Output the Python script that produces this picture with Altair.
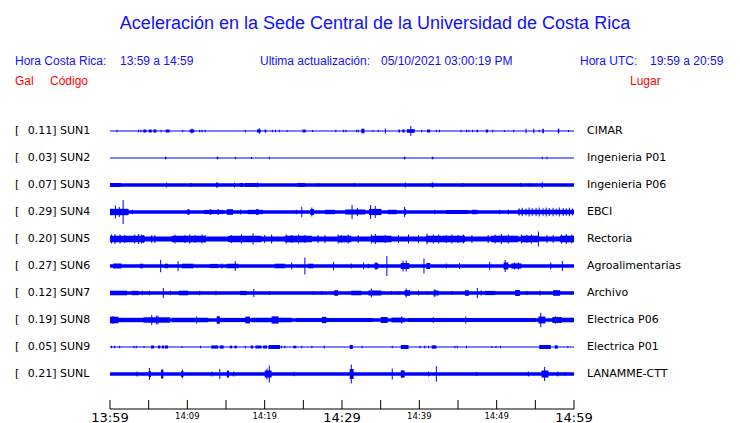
import altair as alt
import pandas as pd

# ---------------- data ----------------
codes = ["SUN1", "SUN2", "SUN3", "SUN4", "SUN5", "SUN6", "SUN7", "SUN8", "SUN9", "SUNL"]
gal = ["0.11", "0.03", "0.07", "0.29", "0.20", "0.27", "0.12", "0.19", "0.05", "0.21"]
places = ["CIMAR", "Ingenieria P01", "Ingenieria P06", "EBCI", "Rectoria",
          "Agroalimentarias", "Archivo", "Electrica P06", "Electrica P01", "LANAMME-CTT"]
# background noise half-amplitude of each trace (display units, 27 = trace spacing)
base_amp = [0.6, 0.6, 1.7, 1.7, 2.5, 1.7, 1.7, 1.7, 0.6, 1.7]

tick_minutes = [0, 5, 10, 15, 20, 25, 30, 35, 40, 45, 50, 55, 60]
label_minutes = [0, 10, 20, 30, 40, 50, 60]
label_text = ["13:59", "14:09", "14:19", "14:29", "14:39", "14:49", "14:59"]
label_major = [True, False, False, True, False, False, True]

# envelope events per trace: (minute, half-amp) spikes or (start, end, half-amp) bursts
sun1 = [(0.9, 1.3), (3.7, 1.3), (4.0, 1.3), (4.3, 4.7, 1.5), (5.0, 5.4, 1.5), (5.6, 6.0, 1.5), (6.6, 1.3),
        (7.2, 7.7, 1.5), (9.4, 1.3), (10.3, 10.9, 1.5), (10.6, 2.5), (11.6, 1.3), (11.9, 1.3), (12.3, 1.3),
        (17.5, 1.3), (19.0, 19.5, 1.5), (19.3, 2.7), (20.0, 20.2, 1.5), (21.0, 1.3), (21.4, 1.3), (21.9, 1.3),
        (22.9, 1.0), (24.9, 25.3, 1.5), (26.2, 1.0), (29.2, 1.3), (30.2, 1.3), (30.5, 1.3), (31.9, 1.3),
        (32.1, 1.3), (32.5, 32.9, 2.3), (34.0, 1.0), (34.7, 1.0), (35.6, 2.5), (37.3, 37.5, 1.5),
        (37.8, 38.1, 1.5), (38.4, 39.4, 1.8), (38.9, 5.0), (40.3, 1.3), (41.0, 41.4, 1.5), (42.2, 1.3),
        (42.6, 1.3), (45.4, 1.3), (46.1, 1.3), (46.4, 1.3), (46.9, 1.3), (47.4, 47.6, 1.3), (48.6, 48.9, 1.5),
        (49.5, 1.3), (51.0, 1.0), (52.2, 1.3), (53.8, 2.3), (54.8, 2.3), (55.5, 1.3), (55.9, 56.1, 2.3),
        (57.9, 58.1, 2.3), (59.3, 1.0)]
sun2 = [(7.1, 7.3, 1.3), (13.8, 14.0, 1.3), (16.2, 1.3), (18.3, 0.9), (20.6, 1.3), (38.0, 38.2, 1.3),
        (41.6, 41.8, 1.3), (55.9, 1.3), (56.5, 1.3)]
sun3 = [(0.0, 1.4, 2.0), (7.3, 2.5), (10.5, 1.9), (13.7, 14.0, 2.5), (16.1, 2.6), (16.8, 17.2, 2.0),
        (17.5, 19.0, 1.9), (19.1, 2.6), (24.2, 25.2, 1.9), (26.9, 1.9), (31.6, 1.9), (38.2, 2.6),
        (41.6, 41.8, 2.6), (45.6, 1.9), (53.1, 1.9), (54.3, 1.9), (55.9, 3.0)]
sun4 = [(0.0, 2.4, 3.2), (0.7, 6.5), (1.2, 5.0), (1.7, 12.0), (2.9, 2.2), (10.0, 10.3, 2.8), (12.2, 14.7, 2.1),
        (12.9, 13.1, 2.7), (13.9, 14.1, 2.7), (15.1, 15.9, 2.8), (16.9, 2.4), (17.8, 19.8, 2.2),
        (18.9, 19.2, 2.9), (24.1, 2.2), (24.8, 5.3), (25.9, 26.4, 2.9), (26.1, 4.5), (27.8, 29.1, 2.2),
        (30.4, 33.0, 2.6), (31.3, 7.0), (32.0, 4.0), (33.5, 35.1, 3.1), (33.7, 7.0), (34.3, 6.0),
        (35.9, 37.1, 2.2), (38.0, 38.3, 2.8), (38.1, 5.0), (42.0, 2.2), (43.5, 46.3, 2.0), (46.8, 47.5, 2.2),
        (50.4, 2.2), (51.5, 2.4), (52.7, 60.0, 2.3), (52.9, 3.8), (53.3, 4.2), (53.8, 3.6), (54.2, 4.4),
        (54.6, 3.8), (55.1, 4.2), (55.5, 4.5), (56.0, 3.8), (56.4, 4.4), (56.8, 4.0), (57.3, 4.2),
        (57.7, 3.6), (58.1, 4.4), (58.6, 4.0), (59.0, 3.8), (59.4, 4.2), (59.8, 3.6)]
sun5 = [(0.0, 4.5, 3.3), (8.0, 12.3, 3.3), (15.3, 19.6, 3.3), (22.6, 26.1, 3.3), (29.5, 31.2, 3.3),
        (33.8, 36.4, 3.3), (40.9, 45.9, 3.3), (49.3, 52.8, 3.3), (53.2, 55.4, 3.3), (58.2, 60.0, 3.3),
        (0.2, 4.5), (0.65, 5.0), (1.3, 4.5), (1.9, 4.0), (3.2, 4.5), (3.7, 5.0), (4.1, 4.5), (4.3, 4.0),
        (5.4, 4.0), (5.8, 4.0), (8.4, 4.5), (9.7, 4.0), (10.3, 4.5), (11.0, 4.0), (11.9, 4.5), (12.3, 4.0),
        (15.7, 4.0), (17.0, 4.5), (18.5, 5.5), (20.0, 4.0), (20.9, 4.5), (22.8, 4.5), (23.5, 4.0),
        (24.4, 4.5), (25.2, 4.0), (26.9, 4.0), (27.8, 4.0), (29.5, 4.5), (29.9, 4.0), (30.8, 4.5),
        (32.1, 4.0), (33.8, 4.5), (34.3, 5.0), (35.6, 4.0), (37.3, 4.0), (38.6, 4.5), (39.9, 4.0),
        (41.0, 5.5), (41.8, 4.5), (42.5, 4.5), (43.5, 4.0), (44.2, 4.5), (45.0, 4.0), (45.7, 4.5),
        (46.8, 4.0), (48.9, 4.0), (49.8, 4.5), (50.6, 5.0), (51.5, 4.5), (53.2, 4.5), (53.9, 4.0),
        (54.5, 4.5), (55.4, 7.5), (56.5, 4.0), (57.3, 4.0), (58.4, 4.5), (59.0, 5.0), (59.7, 4.5)]
sun6 = [(0.4, 1.5, 2.5), (3.9, 4.3, 2.3), (6.55, 6.3), (7.1, 7.5, 2.3), (8.8, 5.0), (9.3, 10.8, 2.3),
        (12.9, 14.0, 2.1), (14.5, 2.5), (15.1, 16.6, 2.3), (16.2, 5.0), (21.3, 22.6, 2.3), (23.5, 3.5),
        (25.2, 8.5), (25.6, 26.3, 2.3), (28.9, 4.0), (31.2, 2.5), (32.8, 3.5), (33.4, 2.3),
        (34.2, 34.7, 2.8), (34.4, 4.0), (35.8, 10.0), (37.6, 38.7, 3.0), (37.9, 5.5), (38.3, 5.5),
        (40.6, 7.5), (40.9, 41.4, 3.0), (43.5, 2.5), (45.2, 3.0), (49.1, 4.0), (50.9, 51.5, 3.5),
        (51.1, 6.0), (51.9, 53.2, 2.6), (52.3, 3.5), (52.8, 3.5), (57.0, 3.5), (58.5, 5.0)]
sun7 = [(0.0, 2.2, 2.3), (2.8, 3.7, 2.2), (4.2, 2.2), (5.1, 2.2), (6.9, 5.0), (7.8, 2.3), (8.9, 10.1, 2.3),
        (11.6, 2.3), (13.7, 2.3), (16.8, 17.7, 2.1), (18.6, 4.0), (20.6, 2.1), (26.3, 2.1), (27.4, 2.1),
        (29.0, 29.5, 2.8), (31.2, 32.5, 2.3), (33.4, 35.1, 2.5), (33.8, 4.5), (36.4, 2.1), (37.3, 2.1),
        (38.1, 38.8, 2.8), (38.3, 4.5), (39.9, 2.5), (41.0, 2.1), (41.8, 42.5, 2.5), (42.0, 4.0),
        (44.2, 2.1), (45.9, 46.4, 2.8), (47.5, 5.0), (48.0, 2.5), (48.5, 49.8, 2.1), (52.4, 53.0, 3.0),
        (53.9, 2.1), (55.6, 2.5), (57.3, 58.2, 2.8)]
sun8 = [(0.0, 1.1, 3.3), (1.1, 4.3, 2.2), (4.3, 7.8, 2.7), (0.4, 4.0), (5.4, 5.0), (6.0, 4.2), (6.2, 4.5),
        (8.0, 12.7, 2.2), (11.2, 3.5), (13.8, 14.2, 3.8), (14.2, 17.5, 2.1), (17.5, 18.1, 3.4),
        (18.3, 23.5, 2.2), (20.9, 21.8, 3.6), (24.0, 34.0, 2.0), (27.4, 28.0, 3.2), (35.0, 35.9, 3.0),
        (36.4, 38.1, 2.4), (37.7, 3.5), (38.5, 55.0, 2.0), (41.8, 3.0), (46.0, 3.5), (55.4, 56.3, 3.4),
        (55.7, 7.3), (57.2, 58.4, 3.0), (57.6, 3.8), (58.4, 60.0, 2.3)]
sun9 = [(0.2, 1.3), (0.6, 1.3), (1.25, 1.3), (3.1, 1.3), (3.4, 1.3), (4.4, 1.0), (5.3, 5.7, 1.5),
        (6.2, 6.5, 1.5), (6.7, 7.0, 1.5), (7.1, 7.5, 1.5), (9.3, 1.0), (11.7, 1.3), (13.1, 14.0, 1.6),
        (14.2, 14.7, 1.6), (15.5, 15.8, 1.4), (16.1, 16.4, 1.4), (17.5, 1.3), (18.2, 18.5, 1.5),
        (18.8, 19.6, 1.5), (19.8, 20.3, 1.5), (20.5, 22.0, 2.0), (22.2, 1.3), (22.6, 1.3), (23.7, 24.1, 1.3),
        (24.8, 1.3), (26.1, 1.3), (27.7, 1.6), (31.0, 31.4, 2.0), (32.6, 1.3), (36.5, 1.3), (37.6, 38.6, 2.0),
        (40.1, 1.3), (40.7, 1.5), (41.2, 1.3), (41.6, 42.2, 1.7), (44.6, 1.3), (44.9, 1.3), (46.1, 1.3),
        (49.4, 1.0), (49.9, 1.0), (50.5, 1.3), (55.5, 57.0, 2.0), (57.5, 57.9, 1.7), (59.2, 1.0)]
sunl = [(3.5, 2.5), (5.0, 5.3, 3.0), (5.1, 6.0), (6.6, 6.9, 4.0), (6.75, 5.0), (9.2, 9.5, 3.0), (9.35, 4.5),
        (13.2, 2.5), (14.2, 5.0), (15.1, 15.4, 3.5), (16.0, 2.5), (20.0, 20.9, 3.5), (20.3, 5.5), (20.6, 8.5),
        (23.8, 2.2), (31.0, 31.5, 5.0), (31.2, 9.5), (36.5, 5.5), (37.6, 38.1, 3.5), (37.8, 4.0), (41.2, 2.5),
        (42.2, 7.8), (47.4, 1.9), (54.1, 2.5), (55.8, 56.7, 3.5), (56.2, 7.0), (57.9, 2.5), (58.8, 2.0)]

traces = [sun1, sun2, sun3, sun4, sun5, sun6, sun7, sun8, sun9, sunl]

# ---------------- build tables ----------------
ROW0, STEP, SPIKE = 21, 27, 0.065
recs = []
for i, evs in enumerate(traces):
    yc = ROW0 + STEP * i
    recs.append(dict(t0=0.0, t1=60.0, lo=yc - base_amp[i], hi=yc + base_amp[i]))
    for e in evs:
        if len(e) == 2:
            t0, t1, a = e[0] - SPIKE, e[0] + SPIKE, e[1]
        else:
            t0, t1, a = e
        recs.append(dict(t0=max(0.0, t0), t1=min(60.0, t1), lo=yc - a, hi=yc + a))
wave = pd.DataFrame(recs)

labels = pd.DataFrame(dict(yc=[ROW0 + STEP * i for i in range(len(codes))],
                           left=[f"{g}] {c}" for g, c in zip(gal, codes)],
                           place=places))

ticks = pd.DataFrame(dict(t=tick_minutes))
axis_lab = pd.DataFrame(dict(t=label_minutes, txt=label_text, major=label_major))

XS = alt.Scale(domain=[0, 60], nice=False, zero=False)
YS = alt.Scale(domain=[0, 299], reverse=True, nice=False, zero=False)
BLUE = "#0000ff"

waves = alt.Chart(wave).mark_rect(color=BLUE).encode(
    x=alt.X("t0:Q", scale=XS, axis=None), x2="t1:Q",
    y=alt.Y("lo:Q", scale=YS, axis=None), y2="hi:Q")

axis_line = alt.Chart(pd.DataFrame(dict(a=[0], b=[60]))).mark_rule(color="black", strokeWidth=1).encode(
    x=alt.X("a:Q", scale=XS, axis=None), x2="b:Q", y=alt.value(299))

tick_rules = alt.Chart(ticks).mark_rule(color="black", strokeWidth=1).encode(
    x=alt.X("t:Q", scale=XS, axis=None), y=alt.value(290), y2=alt.value(299))

major_lab = alt.Chart(axis_lab).transform_filter("datum.major").mark_text(
    font="DejaVu Sans", fontSize=13, baseline="alphabetic", align="center", color="black").encode(
    x=alt.X("t:Q", scale=XS, axis=None), y=alt.value(311.5), text="txt:N")
minor_lab = alt.Chart(axis_lab).transform_filter("!datum.major").mark_text(
    font="DejaVu Sans", fontSize=8.5, baseline="alphabetic", align="center", color="black").encode(
    x=alt.X("t:Q", scale=XS, axis=None), y=alt.value(309), text="txt:N")

bracket = alt.Chart(labels).mark_text(font="DejaVu Sans", fontSize=11, align="left",
                                      baseline="middle", color="black").encode(
    x=alt.value(-95), y=alt.Y("yc:Q", scale=YS, axis=None), text=alt.value("["))
left_lab = alt.Chart(labels).mark_text(font="DejaVu Sans", fontSize=11, align="left",
                                       baseline="middle", color="black").encode(
    x=alt.value(-82.3), y=alt.Y("yc:Q", scale=YS, axis=None), text="left:N")
right_lab = alt.Chart(labels).mark_text(font="DejaVu Sans", fontSize=11, align="left",
                                        baseline="middle", color="black").encode(
    x=alt.value(477), y=alt.Y("yc:Q", scale=YS, axis=None), text="place:N")

# header texts (page-pixel positions relative to the plot origin at 110,110)
hdr = pd.DataFrame(dict(
    txt=["Hora Costa Rica:", "13:59 a 14:59", "Ultima actualización:", "05/10/2021 03:00:19 PM",
         "Hora UTC:", "19:59 a 20:59", "Gal", "Código", "Lugar"],
    px=[15, 120, 260, 381, 580, 650, 15, 50, 630],
    py=[61, 61, 61, 61, 61, 61, 81, 81, 81],
    col=["#1010ff"] * 6 + ["#ff0000"] * 3))
hdr["px"] = hdr["px"] - 110
hdr["py"] = hdr["py"] - 110
header = alt.Chart(hdr).mark_text(font="Liberation Sans", fontSize=12, align="left",
                                  baseline="middle").encode(
    x=alt.X("px:Q", scale=None, axis=None), y=alt.Y("py:Q", scale=None, axis=None),
    text="txt:N", color=alt.Color("col:N", scale=None, legend=None))

title = alt.Chart(pd.DataFrame(dict(txt=["Aceleración en la Sede Central de la Universidad de Costa Rica"]))).mark_text(
    font="Liberation Sans", fontSize=18, align="center", baseline="middle", color="#1010ff").encode(
    x=alt.value(375 - 110), y=alt.value(23.5 - 110), text="txt:N")

chart = alt.layer(waves, axis_line, tick_rules, major_lab, minor_lab, bracket, left_lab, right_lab,
                  header, title).resolve_scale(x="independent", y="independent").properties(
    width=464, height=299,
    padding={"left": 102, "top": 102, "right": 158, "bottom": 14},
    autosize=alt.AutoSizeParams(type="none"),
    background="white",
).configure_view(stroke=None)

chart.save("out.html", embed_options={"renderer": "svg", "actions": False})
